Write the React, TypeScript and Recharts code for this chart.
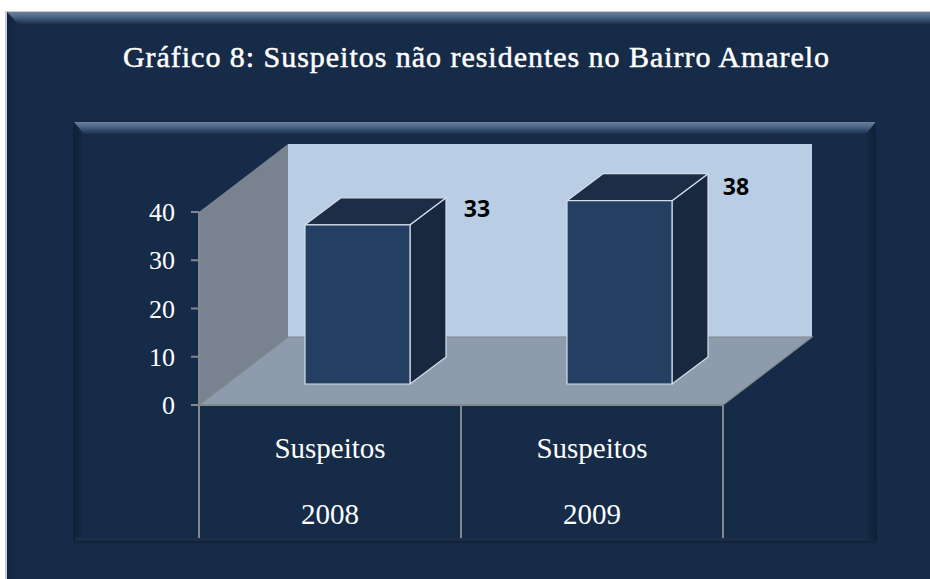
import { BarChart, Bar, XAxis, YAxis, LabelList } from 'recharts';

const years = ['2008', '2009'];
const groupLabels = ['Suspeitos', 'Suspeitos'];
const suspects = [33, 38];
const yTicks = [0, 10, 20, 30, 40];

const chartData = years.map((year, i) => ({ year, group: groupLabels[i], suspects: suspects[i] }));

const WIDTH = 930;
const HEIGHT = 579;
const plot = { left: 199, right: 723, top: 212, bottom: 405 };
// depth of the fake 3D box and of the bars inside it
const wallDepth = { dx: 89, dy: 68 };
const barDepth = { dx: 36, dy: 27 };
const barShift = { dx: 27, dy: 21 };

const serif = '"Liberation Serif", serif';
const axisGrey = '#82888f';

const BackDrop = () => {
  const { left, right, top, bottom } = plot;
  const { dx, dy } = wallDepth;
  return (
    <svg width={WIDTH} height={HEIGHT} style={{ position: 'absolute', left: 0, top: 0 }}>
      <defs>
        <linearGradient id="bevelTop" x1="0" y1="0" x2="0" y2="1">
          <stop offset="0%" stopColor="#6d8099" />
          <stop offset="35%" stopColor="#4f6a8d" />
          <stop offset="100%" stopColor="#1a2f4c" />
        </linearGradient>
        <linearGradient id="shadeLeft" x1="0" y1="0" x2="1" y2="0">
          <stop offset="0%" stopColor="#0f2036" />
          <stop offset="100%" stopColor="#162b47" />
        </linearGradient>
        <linearGradient id="shadeRight" x1="0" y1="0" x2="1" y2="0">
          <stop offset="0%" stopColor="#162b47" />
          <stop offset="100%" stopColor="#0f2036" />
        </linearGradient>
        <linearGradient id="shadeBottom" x1="0" y1="0" x2="0" y2="1">
          <stop offset="0%" stopColor="#1f3350" />
          <stop offset="100%" stopColor="#101f33" />
        </linearGradient>
      </defs>

      <rect width={WIDTH} height={HEIGHT} fill="#ffffff" />
      <rect x={5} y={11} width={WIDTH - 5} height={HEIGHT - 11} fill="#c9ced6" />
      <rect x={7} y={12} width={WIDTH - 7} height={HEIGHT - 12} fill="#162b47" />
      <polygon points={`7,12 ${WIDTH},12 ${WIDTH},24 18,24`} fill="url(#bevelTop)" />
      <polygon points="7,12 18,24 18,579 7,579" fill="url(#shadeLeft)" opacity={0.5} />

      <rect x={74} y={122} width={802} height={420} fill="#162b47" />
      <polygon points="74,122 876,122 866,134 84,134" fill="url(#bevelTop)" />
      <polygon points="73,122 84,134 84,538 73,542" fill="url(#shadeLeft)" />
      <polygon points="876,122 866,134 866,538 877,542" fill="url(#shadeRight)" />
      <polygon points="76,538 866,538 877,543 74,543" fill="url(#shadeBottom)" />

      {/* walls of the 3D box */}
      <rect x={left + dx} y={top - dy} width={right - left} height={bottom - top} fill="#b9cde4" />
      <polygon
        points={`${left},${top} ${left + dx},${top - dy} ${left + dx},${bottom - dy} ${left},${bottom}`}
        fill="#78838f"
      />
      <polygon
        points={`${left},${bottom} ${left + dx},${bottom - dy} ${right + dx},${bottom - dy} ${right},${bottom}`}
        fill="#8d9bac"
      />
      <path
        d={`M${left},${bottom} L${left + dx},${bottom - dy} L${right + dx},${bottom - dy} L${right},${bottom}`}
        fill="none"
        stroke={axisGrey}
        strokeWidth={1.2}
      />
    </svg>
  );
};

const Box3D = (props: any) => {
  const { x, y, width, height } = props;
  const left = x + barShift.dx;
  const right = left + width;
  const top = y - barShift.dy;
  const bottom = top + height;
  const { dx, dy } = barDepth;
  const edge = { stroke: '#d3deec', strokeWidth: 1.2, strokeLinejoin: 'round' as const };
  return (
    <g>
      <polygon
        points={`${right},${top} ${right + dx},${top - dy} ${right + dx},${bottom - dy} ${right},${bottom}`}
        fill="#18293f"
        {...edge}
      />
      <polygon
        points={`${left},${top} ${left + dx},${top - dy} ${right + dx},${top - dy} ${right},${top}`}
        fill="#1c2d45"
        {...edge}
      />
      <rect x={left} y={top} width={width} height={height} fill="#253f62" {...edge} />
    </g>
  );
};

const labelNudge = [
  { dx: 172, dy: -17 },
  { dx: 169, dy: -15 },
];

const ValueLabel = (props: any) => {
  const { x, y, value, index } = props;
  const nudge = labelNudge[index];
  return (
    <text
      x={x + barShift.dx + nudge.dx}
      y={y - barShift.dy + nudge.dy}
      textAnchor="middle"
      dominantBaseline="central"
      fontFamily='"Open Sans", sans-serif'
      fontWeight={700}
      fontSize={23}
      fill="#000000"
    >
      {value}
    </text>
  );
};

const GroupTick = (props: any) => {
  const { x, payload, index } = props;
  const half = (plot.right - plot.left) / years.length / 2;
  return (
    <g>
      <line x1={x - half} x2={x - half} y1={plot.bottom} y2={538} stroke={axisGrey} strokeWidth={2} />
      <line x1={x + half} x2={x + half} y1={plot.bottom} y2={538} stroke={axisGrey} strokeWidth={2} />
      <text x={x} y={458} textAnchor="middle" fontFamily={serif} fontSize={29} fill="#ffffff">
        {groupLabels[index]}
      </text>
      <text x={x} y={524} textAnchor="middle" fontFamily={serif} fontSize={29} fill="#ffffff">
        {payload.value}
      </text>
    </g>
  );
};

const App = () => {
  return (
    <div style={{ position: 'absolute', left: 0, top: 0, width: WIDTH, height: HEIGHT, overflow: 'hidden' }}>
      <BackDrop />
      <div style={{ position: 'absolute', left: 0, top: 0 }}>
        <BarChart
          width={WIDTH}
          height={HEIGHT}
          data={chartData}
          margin={{ top: plot.top, right: WIDTH - plot.right, bottom: HEIGHT - plot.bottom - 140, left: plot.left - 100 }}
        >
          <text
            x={476.5}
            y={67}
            textAnchor="middle"
            fontFamily={serif}
            fontSize={30}
            letterSpacing={0.97}
            stroke="#ffffff"
            strokeWidth={0.5}
            fill="#ffffff"
          >
            Gráfico 8: Suspeitos não residentes no Bairro Amarelo
          </text>
          <XAxis
            dataKey="year"
            height={140}
            interval={0}
            tickLine={false}
            axisLine={{ stroke: axisGrey, strokeWidth: 2 }}
            tick={<GroupTick />}
          />
          <YAxis
            width={100}
            domain={[0, 40]}
            ticks={yTicks}
            tickSize={8}
            tickMargin={16}
            axisLine={{ stroke: axisGrey, strokeWidth: 2 }}
            tickLine={{ stroke: axisGrey, strokeWidth: 2 }}
            tick={{ fill: '#ffffff', fontSize: 26, fontFamily: serif }}
          />
          <Bar dataKey="suspects" barSize={105} shape={<Box3D />} isAnimationActive={false}>
            <LabelList dataKey="suspects" content={<ValueLabel />} />
          </Bar>
        </BarChart>
      </div>
    </div>
  );
};

export default App;
